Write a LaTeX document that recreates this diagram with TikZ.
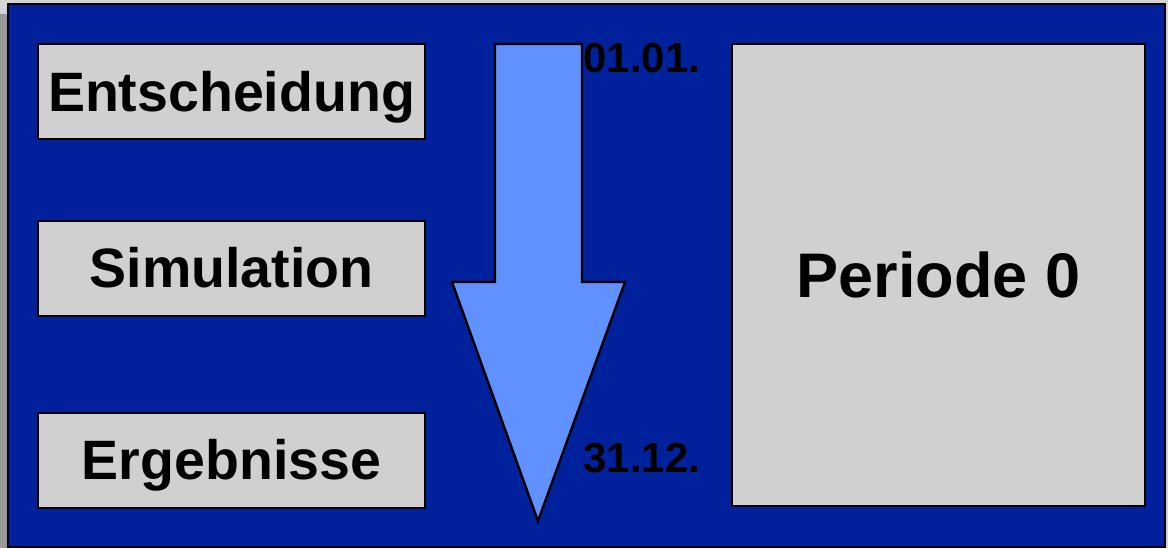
\documentclass[tikz,border=0pt]{standalone}
\usepackage{fontspec}
\setmainfont{Liberation Sans}
\usetikzlibrary{positioning}
\definecolor{frameblue}{RGB}{0,33,155}
\definecolor{arrowblue}{RGB}{97,144,255}
\definecolor{boxgray}{RGB}{208,208,208}
\definecolor{pagegray}{RGB}{212,212,212}
\definecolor{edgegray}{RGB}{153,153,153}

\begin{document}
\begin{tikzpicture}[x=0.5pt,y=-0.5pt,font=\bfseries,
    every node/.style={inner sep=0pt,text depth=0pt},
    phase/.style={draw,line width=1pt,fill=boxgray,minimum width=193.5pt,
      minimum height=47.5pt,text height=19.9pt,
      font=\fontsize{27.75}{30}\bfseries},
    date/.style={anchor=west,text height=15pt,
      font=\fontsize{21}{24}\bfseries}]
  \useasboundingbox (0,0) rectangle (1168,548);
  \fill[pagegray] (0,0) rectangle (1168,548);
  \fill[edgegray] (0,14) rectangle (8,548);
  \draw[line width=1.2pt,fill=frameblue] (8,4) rectangle (1165,547);

  \node[phase] (ent) at (231.5,91.5) {Entscheidung};
  \node[phase] (sim) at (231.5,268) {Simulation};
  \node[phase] (erg) at (231.5,460) {Ergebnisse};

  \node[draw,line width=1pt,fill=boxgray,minimum width=206.5pt,
    minimum height=231pt,text height=22.6pt,
    font=\fontsize{31.5}{34}\bfseries] (per) at (938.5,275) {Periode 0};

  \draw[line width=1.2pt,fill=arrowblue,line join=miter]
    (495,44) -- (582,44) -- (582,282) -- (625,282) -- (538,521)
    -- (452,282) -- (495,282) -- cycle;

  \node[date] (start) at (583,57) {01.01.};
  \node[date] (end) at (583,457) {31.12.};
\end{tikzpicture}
\end{document}
